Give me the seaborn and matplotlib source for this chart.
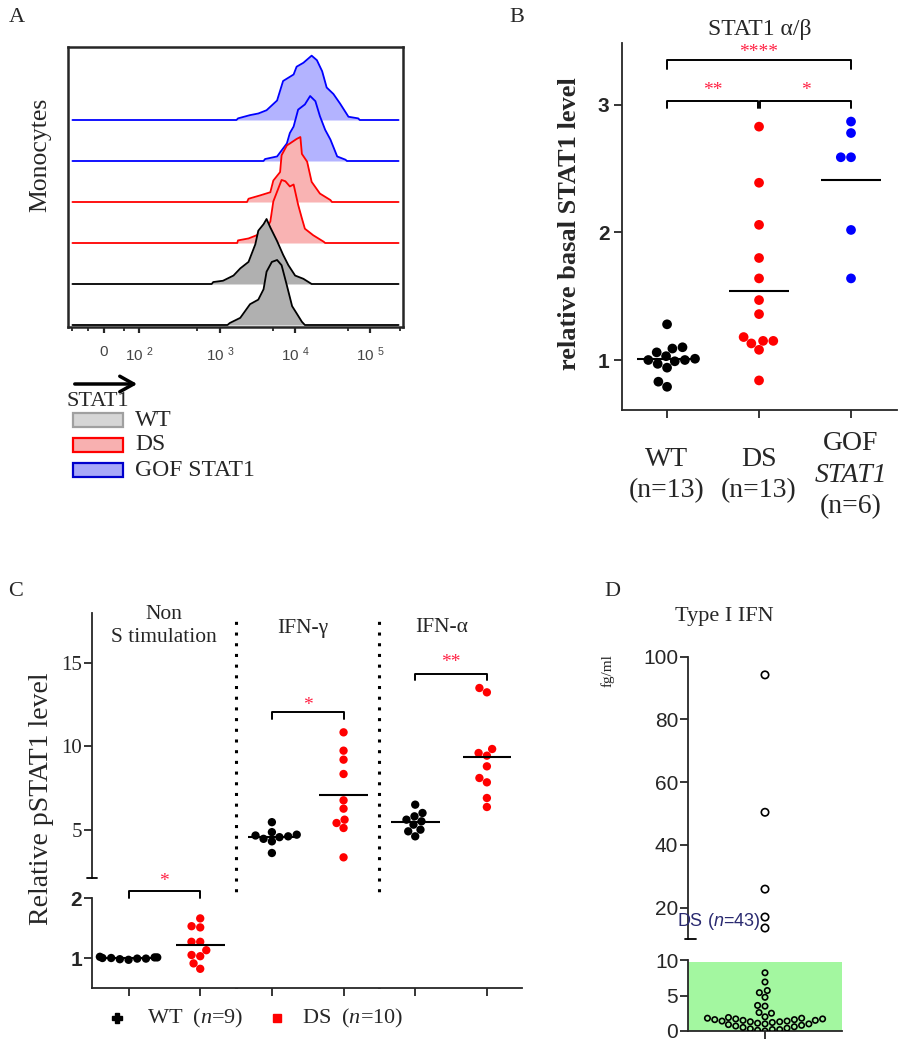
import numpy as np
import pandas as pd
import matplotlib
matplotlib.use("Agg")
import matplotlib.pyplot as plt
import seaborn as sns
from matplotlib.patches import Rectangle, FancyArrowPatch
from matplotlib.lines import Line2D

sns.set_style("ticks")
plt.rcParams["font.family"] = ["Liberation Serif", "DejaVu Serif"]
plt.rcParams["mathtext.fontset"] = "custom"
plt.rcParams["mathtext.rm"] = "Liberation Serif"
plt.rcParams["mathtext.it"] = "Liberation Serif:italic"
plt.rcParams["mathtext.sf"] = "Liberation Sans:italic"
plt.rcParams["mathtext.default"] = "regular"

SERIF = "Liberation Serif"
SANS = "Liberation Sans"
RED, BLUE, STAR = "#ff0000", "#0000ff", "#ff2244"

# ---------------- data ----------------
# A: STAT1 histograms (x in decades, 10^3 -> 3; height in % of mode), bottom to top
wt2_x = [3.10, 3.13, 3.27, 3.40, 3.51, 3.58, 3.62, 3.69, 3.76, 3.82, 3.89, 3.96, 4.02, 4.09, 4.13]
wt2_h = [0, 3, 11, 32, 39, 55, 82, 97, 100, 92, 61, 29, 18, 5, 0]
wt1_x = [2.89, 2.91, 3.04, 3.18, 3.27, 3.38, 3.47, 3.51, 3.58, 3.62, 3.67, 3.76, 3.84, 3.91, 4.00, 4.11, 4.22]
wt1_h = [0, 3, 5, 13, 24, 34, 61, 82, 92, 100, 87, 66, 45, 29, 13, 8, 0]
ds2_x = [3.23, 3.24, 3.38, 3.49, 3.62, 3.67, 3.71, 3.76, 3.82, 3.87, 3.93, 3.98, 4.04, 4.09, 4.13, 4.24, 4.38, 4.40]
ds2_h = [0, 4, 7, 12, 22, 33, 64, 79, 97, 95, 87, 90, 59, 38, 22, 12, 2, 0]
ds1_x = [3.36, 3.38, 3.53, 3.67, 3.71, 3.80, 3.82, 3.89, 3.93, 4.02, 4.07, 4.09, 4.16, 4.22, 4.33, 4.47, 4.49]
ds1_h = [0, 5, 10, 15, 33, 46, 72, 87, 90, 97, 100, 74, 62, 31, 13, 3, 0]
gof2_x = [3.58, 3.60, 3.76, 3.89, 3.93, 3.98, 4.04, 4.13, 4.20, 4.27, 4.33, 4.40, 4.47, 4.56, 4.67, 4.69]
gof2_h = [0, 3, 7, 27, 43, 53, 79, 87, 100, 92, 69, 48, 33, 7, 2, 0]
gof1_x = [3.22, 3.24, 3.40, 3.51, 3.62, 3.76, 3.84, 3.98, 4.02, 4.11, 4.22, 4.29, 4.36, 4.42, 4.51, 4.60, 4.71, 4.84, 4.86]
gof1_h = [0, 2.5, 7.5, 10, 15, 30, 60, 70, 82, 88, 99, 92, 75, 50, 40, 25, 5, 2.5, 0]
a_tick_pos = [1.457, 1.92, 3, 4, 5]
a_tick_labels = ["0", "10 $^{2}$", "10 $^{3}$", "10 $^{4}$", "10 $^{5}$"]
a_minor_pos = [1.036, 1.244, 1.72, 2.7, 3.7, 4.7, 5.39]
a_legend = ["WT", "DS", "GOF STAT1"]

# B: relative basal STAT1 level
b_groups = ["WT", "DS", "GOF"]
b_wt = [1.28, 1.10, 1.09, 1.06, 1.03, 1.01, 1.00, 1.00, 0.99, 0.97, 0.94, 0.83, 0.79]
b_ds = [2.83, 2.39, 2.06, 1.80, 1.64, 1.47, 1.36, 1.15, 1.13, 1.08, 1.15, 1.18, 0.84]
b_gof = [2.87, 2.78, 2.59, 2.59, 2.02, 1.64]

# C: relative pSTAT1 level
c_conds = ["Non\nS timulation", "IFN-γ", "IFN-α"]
c_wt_non = [1.02, 1.01, 1.00, 1.00, 0.99, 0.98, 0.97, 0.99, 1.01]
c_ds_non = [1.53, 1.51, 1.66, 1.27, 1.27, 1.05, 1.03, 1.13, 0.91, 0.82]
c_wt_g = [5.45, 4.85, 4.70, 4.65, 4.60, 4.55, 4.45, 4.30, 3.60]
c_ds_g = [10.84, 9.74, 9.20, 8.34, 6.76, 6.26, 5.40, 5.60, 5.10, 3.34]
c_wt_a = [6.5, 6.0, 5.8, 5.6, 5.5, 5.3, 5.0, 4.9, 4.6]
c_ds_a = [13.5, 13.24, 9.84, 9.6, 9.44, 8.8, 8.1, 7.84, 6.9, 6.36]

# D: type I IFN (fg/ml), DS n=43
d_ifn = [94.2, 50.4, 25.9, 17.0, 13.5, 8.2, 6.9, 5.7, 5.4, 4.75, 3.6, 3.5, 2.6, 2.5, 2.0,
         1.9, 1.8, 1.8, 1.7, 1.7, 1.6, 1.6, 1.5, 1.5, 1.4, 1.4, 1.3, 1.3, 1.2, 1.1,
         1.0, 1.0, 0.9, 0.8, 0.7, 0.6, 0.5, 0.4, 0.3, 0.2, 0.2, 0.1, 0.0]

# ---------------- layout helpers (pixel coords) ----------------
W, H = 904, 1050
fig = plt.figure(figsize=(W / 100, H / 100), dpi=100)


def add_ax(x0, y0, x1, y1):
    return fig.add_axes([x0 / W, 1 - y1 / H, (x1 - x0) / W, (y1 - y0) / H])


def ftext(x, y, s, **kw):
    kw.setdefault("ha", "center")
    kw.setdefault("va", "center")
    return fig.text(x / W, 1 - y / H, s, **kw)


def fline(xs, ys, **kw):
    fig.add_artist(Line2D([x / W for x in xs], [1 - y / H for y in ys],
                          transform=fig.transFigure, **kw))


def bracket(ax, x0, x1, y, drop, label, ty, fs=14):
    ax.plot([x0, x0, x1, x1], [y - drop, y, y, y - drop], color="k", lw=1.4, clip_on=False)
    ax.text((x0 + x1) / 2, ty, label, ha="center", va="center", color=STAR, fontsize=fs)


# ---------------- A ----------------
axA = add_ax(68, 47, 403, 327)
axA.set_xlim(0.977, 5.436)
axA.set_ylim(-2, 278)
hists = [(wt2_x, wt2_h, "black", "#b0b0b0"), (wt1_x, wt1_h, "black", "#b0b0b0"),
         (ds2_x, ds2_h, RED, "#f9b3b3"), (ds1_x, ds1_h, RED, "#f9b3b3"),
         (gof2_x, gof2_h, BLUE, "#b3b3ff"), (gof1_x, gof1_h, BLUE, "#b3b3ff")]
for i, (hx, hh, ec, fc) in enumerate(hists):
    base = i * 41
    hx = np.asarray(hx)
    hh = np.asarray(hh) * 0.65
    z = 20 - 2 * i
    axA.fill_between(hx, base, base + hh, color=fc, lw=0, zorder=z)
    axA.plot(np.r_[1.036, hx, 5.377], base + np.r_[0, hh, 0], color=ec, lw=1.3, zorder=z + 1)
for s in axA.spines.values():
    s.set_linewidth(1.8)
axA.set_yticks([])
axA.set_xticks(a_tick_pos, a_tick_labels, fontfamily=SANS, fontsize=11, color="#444444")
axA.set_xticks(a_minor_pos, minor=True)
axA.tick_params(axis="x", which="major", length=4, width=1.6, pad=9)
axA.tick_params(axis="x", which="minor", length=3, width=1.3)
ftext(40, 155, "Monocytes", rotation=90, fontsize=18.5)
fig.add_artist(FancyArrowPatch((72 / W, 1 - 384 / H), (140 / W, 1 - 384 / H),
                               transform=fig.transFigure, mutation_scale=20, color="k", lw=2.5,
                               arrowstyle="->,head_length=0.5,head_width=0.28"))
ftext(66, 401, "STAT1", ha="left", fontsize=16)
leg_styles = [("#d6d6d6", "#a0a0a0"), ("#f8b0b0", RED), ("#a8a8f8", "#0000cc")]
for k, (lab, (fc, ec)) in enumerate(zip(a_legend, leg_styles)):
    yc = 420 + 25 * k
    fig.add_artist(Rectangle((73 / W, 1 - (yc + 7) / H), 50 / W, 14 / H, transform=fig.transFigure,
                             facecolor=fc, edgecolor=ec, lw=1.6))
    ftext(135, yc, lab, ha="left", fontsize=17)

# ---------------- B ----------------
axB = add_ax(622, 43, 897, 410)
dfB = pd.DataFrame({"group": ["WT"] * len(b_wt) + ["DS"] * len(b_ds) + ["GOF"] * len(b_gof),
                    "value": b_wt + b_ds + b_gof})
sns.swarmplot(data=dfB, x="group", y="value", hue="group", order=b_groups,
              palette={"WT": "black", "DS": RED, "GOF": BLUE}, size=7, linewidth=0,
              legend=False, ax=axB)
for i, vals in enumerate([b_wt, b_ds, b_gof]):
    axB.hlines(np.mean(vals), i - 0.33, i + 0.33, color="k", lw=1.5, zorder=4)
axB.set_xlim(-0.49, 2.5)
axB.set_ylim(0.608, 3.486)
sns.despine(ax=axB)
axB.spines[["left", "bottom"]].set_linewidth(1.3)
axB.set_yticks([1, 2, 3], ["1", "2", "3"], fontfamily=SANS, fontweight="bold", fontsize=15)
axB.set_xticks([0, 1, 2], ["", "", ""])
axB.tick_params(length=6, width=1.3, pad=3)
axB.set_xlabel("")
axB.set_ylabel("")
bracket(axB, 0, 2, 3.35, 0.07, "****", 3.415)
bracket(axB, 0, 0.99, 3.03, 0.05, "**", 3.11)
bracket(axB, 1.01, 2, 3.03, 0.05, "*", 3.11)
ftext(517, 18, "B", fontsize=16)
ftext(760, 30, "STAT1 α/β", fontsize=17)
ftext(570, 224, "relative basal STAT1 level", rotation=90, fontsize=19, fontweight="bold")
for xc, lines in zip([667, 759, 851], [["WT", "(n=13)"], ["DS", "(n=13)"], ["GOF", "STAT1", "(n=6)"]]):
    y0 = 475 - 16 * (len(lines) - 1)
    for j, t in enumerate(lines):
        ftext(xc, y0 + 32 * j, t, fontsize=20, style="italic" if t == "STAT1" else "normal")

# ---------------- C ----------------
c_order = [f"{k}_{g}" for k in range(3) for g in ("WT", "DS")]
rows = []
for k, (wt, ds) in enumerate([(c_wt_non, c_ds_non), (c_wt_g, c_ds_g), (c_wt_a, c_ds_a)]):
    rows += [(k, "WT", f"{k}_WT", v) for v in wt] + [(k, "DS", f"{k}_DS", v) for v in ds]
dfC = pd.DataFrame(rows, columns=["cond", "group", "pos", "value"])

axCu = add_ax(92, 613, 522, 878)
axCl = add_ax(92, 898, 522, 988)
for ax, sub in ((axCu, dfC[dfC.cond > 0]), (axCl, dfC[dfC.cond == 0])):
    sns.swarmplot(data=sub, x="pos", y="value", hue="group", order=c_order,
                  palette={"WT": "black", "DS": RED}, size=6, linewidth=0, legend=False, ax=ax)
    ax.set_xlim(-0.51, 5.49)
    ax.set_xlabel("")
    ax.set_ylabel("")
for (k, g), sub in dfC.groupby(["cond", "group"]):
    ax = axCl if k == 0 else axCu
    p = 2 * k + (0 if g == "WT" else 1)
    ax.hlines(sub.value.mean(), p - 0.34, p + 0.34, color="k", lw=1.5, zorder=4)
axCu.set_ylim(2.1, 18)
axCl.set_ylim(0.5, 2.0)
sns.despine(ax=axCu, bottom=True)
sns.despine(ax=axCl)
for ax in (axCu, axCl):
    ax.spines[["left", "bottom"]].set_linewidth(1.3)
axCu.set_yticks([5, 10, 15], ["5", "10", "15"], fontsize=15)
axCu.tick_params(axis="y", length=6, width=1.3, pad=1)
axCu.tick_params(axis="x", bottom=False, labelbottom=False)
axCl.set_yticks([1, 2], ["1", "2"], fontfamily=SANS, fontweight="bold", fontsize=15)
axCl.set_xticks(range(6), [""] * 6)
axCl.tick_params(length=6, width=1.3, pad=1)
fline([87, 97], [878, 878], color="k", lw=1.3)
span = 878 - 613
for xv in (1.5, 3.5):
    axCu.axvline(xv, ymin=(878 - 988) / span, ymax=(878 - 618) / span, color="k", lw=2.2,
                 ls=(0, (1, 2.5)), clip_on=False)
bracket(axCl, 0, 1, 2.11, 0.11, "*", 2.27)
bracket(axCu, 2, 3, 12.04, 0.4, "*", 12.45)
bracket(axCu, 4, 5, 14.34, 0.38, "**", 15.05)
ftext(16, 592, "C", fontsize=16)
ftext(164, 626, c_conds[0], fontsize=15.5, linespacing=1.25)
ftext(303, 628, c_conds[1], fontsize=15.5)
ftext(442, 628, c_conds[2], fontsize=15.5)
ftext(42, 799, "Relative pSTAT1 level", rotation=90, fontsize=20)
fig.add_artist(Line2D([117 / W], [1 - 1018 / H], marker="P", ms=7, color="k", transform=fig.transFigure))
fig.add_artist(Line2D([277 / W], [1 - 1018 / H], marker="s", ms=6, color=RED, transform=fig.transFigure))
ftext(147, 1018, r"WT  ($\mathit{n}$=9)", ha="left", fontsize=16)
ftext(302, 1018, r"DS  ($\mathit{n}$=10)", ha="left", fontsize=16)

# ---------------- D ----------------
d_arr = np.asarray(d_ifn)
axDu = add_ax(688, 656.7, 842, 939)
axDl = add_ax(688, 960, 842, 1031)
for ax, vals, sz in ((axDu, d_arr[d_arr >= 10], 5.3), (axDl, d_arr[d_arr < 10], 3.9)):
    sns.swarmplot(y=vals, color="black", edgecolor="black", linewidth=1.2, size=sz, ax=ax)
    ax.collections[-1].set_facecolor("none")
    ax.set_xlim(-0.5, 0.5)
axDl.axhspan(0, 9.77, color="#a3f7a0", zorder=0, lw=0)
axDu.set_ylim(10, 100)
axDl.set_ylim(0, 10)
sns.despine(ax=axDu, bottom=True)
sns.despine(ax=axDl)
for ax in (axDu, axDl):
    ax.spines[["left", "bottom"]].set_linewidth(1.3)
axDu.set_yticks([20, 40, 60, 80, 100], ["20", "40", "60", "80", "100"], fontfamily=SANS, fontsize=15)
axDu.tick_params(axis="x", bottom=False, labelbottom=False)
axDu.tick_params(axis="y", length=6, width=1.3, pad=1)
axDl.set_yticks([0, 5, 10], ["0", "5", "10"], fontfamily=SANS, fontsize=15)
axDl.set_xticks([0], [""])
axDl.tick_params(length=6, width=1.3, pad=1)
fline([685, 696], [939, 939], color="k", lw=1.3)
ftext(612, 592, "D", fontsize=16)
ftext(724, 617, "Type I IFN", fontsize=16)
ftext(608, 671, "fg/ml", rotation=90, fontsize=11)
ftext(677, 922, r"DS ($\mathsf{n}$=43)", ha="left", fontfamily=SANS, fontsize=13, color="#2a2a70")

ftext(17, 18, "A", fontsize=16)

fig.savefig("out.png", dpi=100)
